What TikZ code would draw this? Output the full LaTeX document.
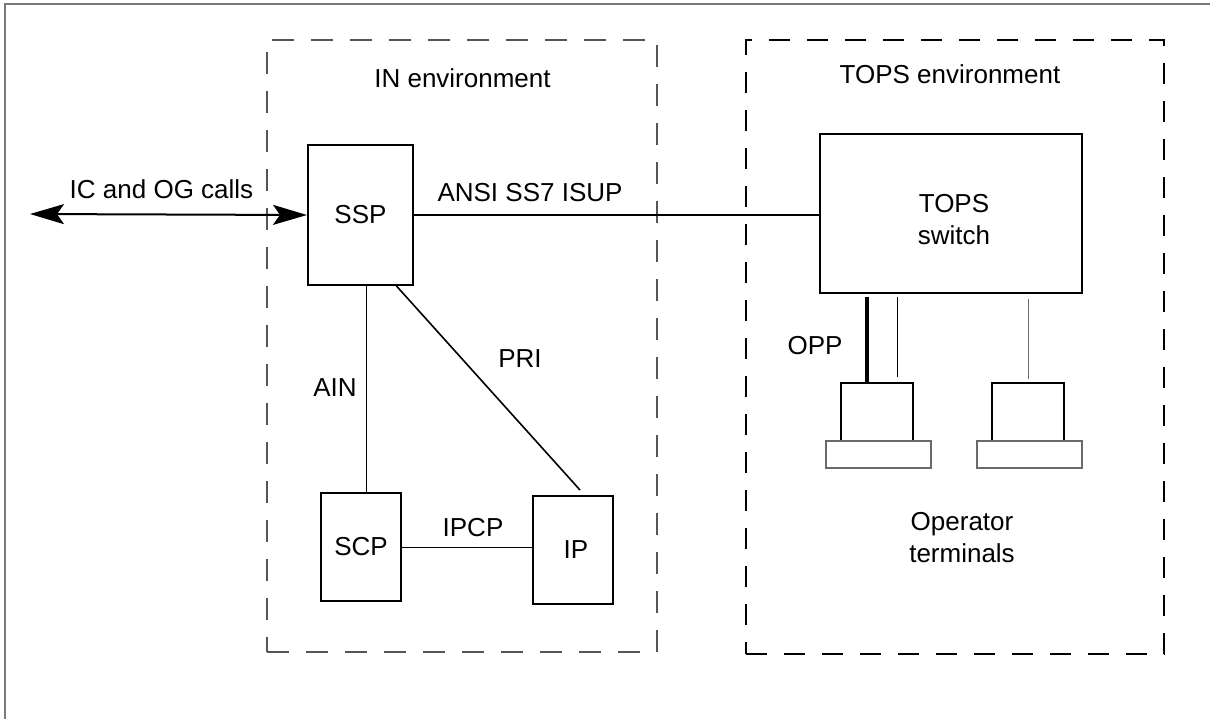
\documentclass[tikz,border=0pt]{standalone}
\usepackage{fontspec}
\setmainfont{Liberation Sans}
\usepackage{xcolor}
\usepackage{tikz}
\usetikzlibrary{positioning,arrows.meta,calc}
\definecolor{FrameGray}{HTML}{7A7A7A}
\definecolor{EnvGray}{HTML}{555555}
\definecolor{BaseGray}{HTML}{6A6A6A}

\tikzset{
  unitbox/.style={draw, line width=1pt, inner sep=0pt},
  envin/.style={draw=EnvGray, line width=0.6pt, dash pattern=on 11pt off 8.5pt,
                minimum width=195pt, minimum height=306pt, inner sep=0pt},
  envtops/.style={draw, line width=1pt, dash pattern=on 10.5pt off 8.5pt,
                  minimum width=209pt, minimum height=307pt, inner sep=0pt},
  termbox/.style={unitbox, minimum width=36pt, minimum height=29pt},
  termbase/.style={draw=BaseGray, line width=0.6pt, inner sep=0pt,
                   minimum width=52.5pt, minimum height=13.5pt},
  link/.style={line width=0.8pt},
  thinlink/.style={line width=0.5pt},
  opplink/.style={line width=2.2pt},
  callarrow/.style={line width=1pt,
    {Stealth[length=17pt,width=10pt,inset=3.5pt]}-{Stealth[length=17pt,width=10pt,inset=3.5pt]}},
  lbl/.style={inner sep=0pt, align=center}
}

\begin{document}
\begin{tikzpicture}[x=0.5pt, y=-0.5pt, font=\fontsize{13}{16}\selectfont]
      \useasboundingbox (0,0) rectangle (1210,719);
      \draw[FrameGray, line width=0.7pt] (5,719) -- (5,4) -- (1210,4);

      % environments
      \node[envin] (INenv) at (462,346) {};
      \node[envtops] (TOPSenv) at (955,347) {};
      \node[lbl] (INlbl) at (462.5,78) {IN environment};
      \node[lbl] (TOPSlbl) at (950,74) {TOPS environment};

      % IN side
      \node[unitbox, minimum width=52.5pt, minimum height=70pt] (SSP) at (360.5,215) {SSP};
      \node[unitbox, minimum width=40pt, minimum height=54pt] (SCP) at (361,547) {SCP};
      \node[unitbox, minimum width=40pt, minimum height=54pt] (IP) at (573,550) {\hspace{3pt}IP};

      % TOPS side
      \node[unitbox, minimum width=131pt, minimum height=79.5pt] (TOPSsw) at (951,213.5) {};
      \node[lbl] (TOPSswlbl) at (954,220) {TOPS\\switch};
      \node[termbox] (termA) at (877,412) {};
      \node[termbase] (baseA) at (878.5,454.5) {};
      \node[termbox] (termB) at (1028,412) {};
      \node[termbase] (baseB) at (1029.5,454.5) {};
      \node[lbl] (oplbl) at (962,538) {Operator\\terminals};

      % calls
      \coordinate (callsEnd) at (30,214);
      \draw[callarrow] (callsEnd) -- (SSP.west);
      \node[lbl] (callslbl) at (161.5,189) {IC and OG calls};

      % links
      \draw[link] (SSP.east) -- (SSP.east -| TOPSsw.west);
      \node[lbl] (isuplbl) at (530,193) {ANSI SS7 ISUP};
      \draw[link] ([xshift=3pt]SSP.south) -- ([xshift=3pt]SSP.south |- SCP.north);
      \node[lbl] (ainlbl) at (335,388) {AIN};
      \draw[link] ([xshift=18pt]SSP.south) -- ([xshift=3.5pt,yshift=2.5pt]IP.north);
      \node[lbl] (prilbl) at (520,359) {PRI};
      \draw[thinlink] (SCP.east) -- (SCP.east -| IP.west);
      \node[lbl] (ipcplbl) at (473,528) {IPCP};

      % terminal links
      \draw[opplink] ([xshift=-5pt]termA.north) -- ([xshift=-5pt,yshift=-1.5pt]termA.north |- TOPSsw.south);
      \draw[thinlink] ([xshift=10pt,yshift=2.5pt]termA.north) -- ([xshift=10pt,yshift=-1.5pt]termA.north |- TOPSsw.south);
      \draw[thinlink, BaseGray] ([yshift=1.5pt]termB.north) -- ([yshift=-2.5pt]termB.north |- TOPSsw.south);
      \node[lbl] (opplbl) at (815,346) {OPP};
    \end{tikzpicture}
\end{document}
